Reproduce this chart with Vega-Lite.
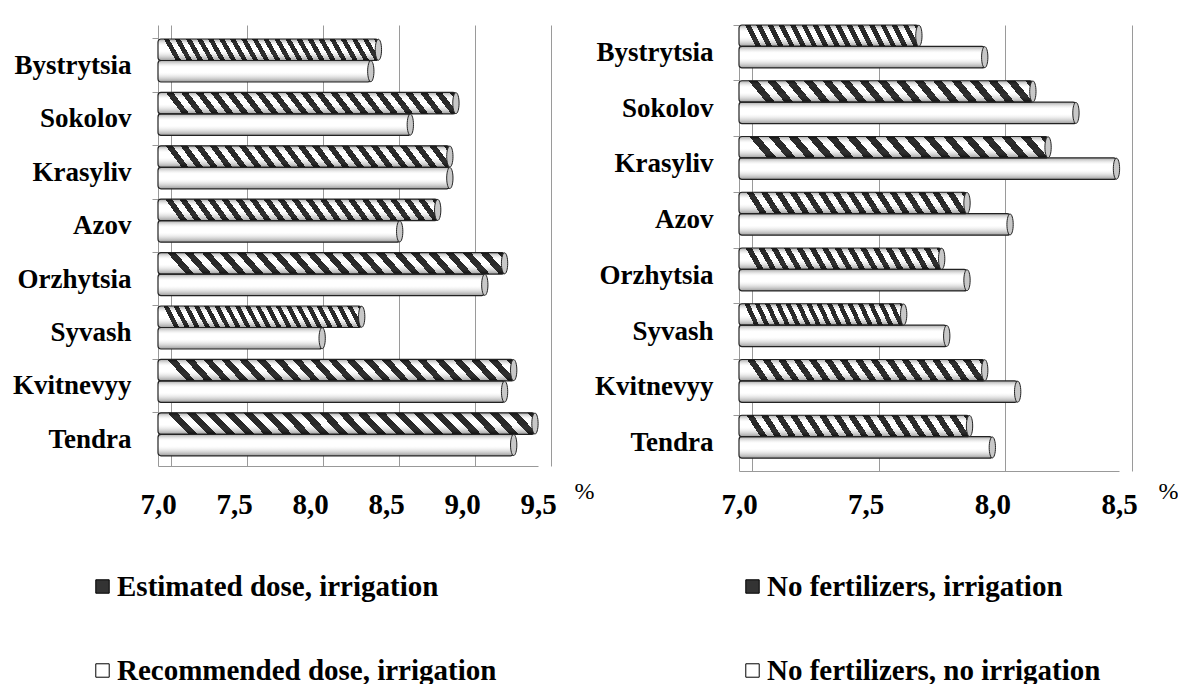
{
  "$schema": "https://vega.github.io/schema/vega-lite/v6.json",
  "padding": {"left": 12, "top": 23, "right": 0, "bottom": 0},
  "autosize": {"type": "pad"},
  "spacing": 0,
  "config": {
    "font": "Liberation Serif",
    "view": {"stroke": null},
    "axis": {"labelFont": "Liberation Serif", "titleFont": "Liberation Serif"},
    "legend": {
      "orient": "none",
      "direction": "vertical",
      "title": null,
      "symbolType": "square",
      "symbolSize": 180,
      "symbolStrokeColor": "#000",
      "symbolStrokeWidth": 1,
      "labelFont": "Liberation Serif",
      "labelFontSize": 29,
      "labelFontWeight": "bold",
      "labelColor": "#000",
      "labelLimit": 600,
      "labelOffset": 0,
      "rowPadding": 54,
      "padding": 0
    }
  },
  "datasets": {
    "left": [
      {"variety": "Bystrytsia", "treatment": "Estimated dose, irrigation", "value": 8.45},
      {"variety": "Bystrytsia", "treatment": "Recommended dose, irrigation", "value": 8.40},
      {"variety": "Sokolov", "treatment": "Estimated dose, irrigation", "value": 8.96},
      {"variety": "Sokolov", "treatment": "Recommended dose, irrigation", "value": 8.66},
      {"variety": "Krasyliv", "treatment": "Estimated dose, irrigation", "value": 8.92},
      {"variety": "Krasyliv", "treatment": "Recommended dose, irrigation", "value": 8.92},
      {"variety": "Azov", "treatment": "Estimated dose, irrigation", "value": 8.84},
      {"variety": "Azov", "treatment": "Recommended dose, irrigation", "value": 8.59},
      {"variety": "Orzhytsia", "treatment": "Estimated dose, irrigation", "value": 9.28},
      {"variety": "Orzhytsia", "treatment": "Recommended dose, irrigation", "value": 9.15},
      {"variety": "Syvash", "treatment": "Estimated dose, irrigation", "value": 8.34},
      {"variety": "Syvash", "treatment": "Recommended dose, irrigation", "value": 8.08},
      {"variety": "Kvitnevyy", "treatment": "Estimated dose, irrigation", "value": 9.34},
      {"variety": "Kvitnevyy", "treatment": "Recommended dose, irrigation", "value": 9.28},
      {"variety": "Tendra", "treatment": "Estimated dose, irrigation", "value": 9.48},
      {"variety": "Tendra", "treatment": "Recommended dose, irrigation", "value": 9.34}
    ],
    "right": [
      {"variety": "Bystrytsia", "treatment": "No fertilizers, irrigation", "value": 7.71},
      {"variety": "Bystrytsia", "treatment": "No fertilizers, no irrigation", "value": 7.97},
      {"variety": "Sokolov", "treatment": "No fertilizers, irrigation", "value": 8.16},
      {"variety": "Sokolov", "treatment": "No fertilizers, no irrigation", "value": 8.33},
      {"variety": "Krasyliv", "treatment": "No fertilizers, irrigation", "value": 8.22},
      {"variety": "Krasyliv", "treatment": "No fertilizers, no irrigation", "value": 8.49},
      {"variety": "Azov", "treatment": "No fertilizers, irrigation", "value": 7.90},
      {"variety": "Azov", "treatment": "No fertilizers, no irrigation", "value": 8.07},
      {"variety": "Orzhytsia", "treatment": "No fertilizers, irrigation", "value": 7.80},
      {"variety": "Orzhytsia", "treatment": "No fertilizers, no irrigation", "value": 7.90},
      {"variety": "Syvash", "treatment": "No fertilizers, irrigation", "value": 7.65},
      {"variety": "Syvash", "treatment": "No fertilizers, no irrigation", "value": 7.82},
      {"variety": "Kvitnevyy", "treatment": "No fertilizers, irrigation", "value": 7.97},
      {"variety": "Kvitnevyy", "treatment": "No fertilizers, no irrigation", "value": 8.10},
      {"variety": "Tendra", "treatment": "No fertilizers, irrigation", "value": 7.91},
      {"variety": "Tendra", "treatment": "No fertilizers, no irrigation", "value": 8.00}
    ]
  },
  "resolve": {
    "scale": {"x": "independent", "y": "independent", "yOffset": "independent", "fill": "independent"},
    "legend": {"fill": "independent"}
  },
  "hconcat": [
    {
      "width": 380,
      "height": 441,
      "data": {"name": "left"},
      "encoding": {
        "y": {
          "field": "variety", "type": "nominal",
          "sort": ["Bystrytsia", "Sokolov", "Krasyliv", "Azov", "Orzhytsia", "Syvash", "Kvitnevyy", "Tendra"],
          "scale": {"paddingInner": 0.195, "paddingOuter": 0.2267, "align": 0.578},
          "axis": {
            "title": null, "bandPosition": 0, "labelOffset": 5.5, "tickSize": 6, "labelPadding": 21,
            "domainColor": "#999", "tickColor": "#999", "labelFontSize": 27, "labelFontWeight": "bold",
            "labelColor": "#000", "grid": false
          }
        },
        "yOffset": {
          "field": "treatment", "type": "nominal",
          "sort": ["Estimated dose, irrigation", "Recommended dose, irrigation"],
          "scale": {"paddingInner": 0, "paddingOuter": 0}
        },
        "x": {
          "field": "value", "type": "quantitative",
          "scale": {"domain": [7, 9.5], "zero": false, "nice": false},
          "axis": {
            "values": [7, 7.5, 8, 8.5, 9, 9.5],
            "labelExpr": "replace(format(datum.value, '.1f'), '.', ',')",
            "grid": true, "gridColor": "#9a9a9a", "gridWidth": 1,
            "tickOffset": 13, "labelOffset": -13, "ticks": false, "tickSize": 0, "labelPadding": 24,
            "domainColor": "#999", "labelFontSize": 29, "labelFontWeight": "bold", "labelColor": "#000",
            "labelFlush": false, "labelOverlap": false,
            "title": "%", "titleX": 426, "titleY": 25, "titleFontSize": 24, "titleFontWeight": "normal",
            "titleAlign": "center", "titleBaseline": "middle", "titleColor": "#000"
          }
        }
      },
      "layer": [
        {
          "mark": {"type": "bar", "cornerRadius": 3},
          "encoding": {
            "x2": {"datum": 7},
            "fill": {
              "field": "treatment", "type": "nominal",
              "scale": {"domain": ["Estimated dose, irrigation", "Recommended dose, irrigation"], "range": ["#333333", "#ffffff"]},
              "legend": {"legendX": -70, "legendY": 547}
            }
          }
        },
        {
          "transform": [{"filter": "datum.treatment === 'Estimated dose, irrigation'"}],
          "mark": {
            "type": "bar", "cornerRadius": 3,
            "fill": {"gradient": "linear", "x1": 0, "y1": 0, "x2": 1, "y2": -0.055, "stops": [
              {"offset": 0, "color": "#fff"}, {"offset": 0.026, "color": "#fff"}, {"offset": 0.026, "color": "#111"}, {"offset": 0.05, "color": "#111"},
              {"offset": 0.05, "color": "#fff"}, {"offset": 0.076, "color": "#fff"}, {"offset": 0.076, "color": "#111"}, {"offset": 0.1, "color": "#111"},
              {"offset": 0.1, "color": "#fff"}, {"offset": 0.126, "color": "#fff"}, {"offset": 0.126, "color": "#111"}, {"offset": 0.15, "color": "#111"},
              {"offset": 0.15, "color": "#fff"}, {"offset": 0.176, "color": "#fff"}, {"offset": 0.176, "color": "#111"}, {"offset": 0.2, "color": "#111"},
              {"offset": 0.2, "color": "#fff"}, {"offset": 0.226, "color": "#fff"}, {"offset": 0.226, "color": "#111"}, {"offset": 0.25, "color": "#111"},
              {"offset": 0.25, "color": "#fff"}, {"offset": 0.276, "color": "#fff"}, {"offset": 0.276, "color": "#111"}, {"offset": 0.3, "color": "#111"},
              {"offset": 0.3, "color": "#fff"}, {"offset": 0.326, "color": "#fff"}, {"offset": 0.326, "color": "#111"}, {"offset": 0.35, "color": "#111"},
              {"offset": 0.35, "color": "#fff"}, {"offset": 0.376, "color": "#fff"}, {"offset": 0.376, "color": "#111"}, {"offset": 0.4, "color": "#111"},
              {"offset": 0.4, "color": "#fff"}, {"offset": 0.426, "color": "#fff"}, {"offset": 0.426, "color": "#111"}, {"offset": 0.45, "color": "#111"},
              {"offset": 0.45, "color": "#fff"}, {"offset": 0.476, "color": "#fff"}, {"offset": 0.476, "color": "#111"}, {"offset": 0.5, "color": "#111"},
              {"offset": 0.5, "color": "#fff"}, {"offset": 0.526, "color": "#fff"}, {"offset": 0.526, "color": "#111"}, {"offset": 0.55, "color": "#111"},
              {"offset": 0.55, "color": "#fff"}, {"offset": 0.576, "color": "#fff"}, {"offset": 0.576, "color": "#111"}, {"offset": 0.6, "color": "#111"},
              {"offset": 0.6, "color": "#fff"}, {"offset": 0.626, "color": "#fff"}, {"offset": 0.626, "color": "#111"}, {"offset": 0.65, "color": "#111"},
              {"offset": 0.65, "color": "#fff"}, {"offset": 0.676, "color": "#fff"}, {"offset": 0.676, "color": "#111"}, {"offset": 0.7, "color": "#111"},
              {"offset": 0.7, "color": "#fff"}, {"offset": 0.726, "color": "#fff"}, {"offset": 0.726, "color": "#111"}, {"offset": 0.75, "color": "#111"},
              {"offset": 0.75, "color": "#fff"}, {"offset": 0.776, "color": "#fff"}, {"offset": 0.776, "color": "#111"}, {"offset": 0.8, "color": "#111"},
              {"offset": 0.8, "color": "#fff"}, {"offset": 0.826, "color": "#fff"}, {"offset": 0.826, "color": "#111"}, {"offset": 0.85, "color": "#111"},
              {"offset": 0.85, "color": "#fff"}, {"offset": 0.876, "color": "#fff"}, {"offset": 0.876, "color": "#111"}, {"offset": 0.9, "color": "#111"},
              {"offset": 0.9, "color": "#fff"}, {"offset": 0.926, "color": "#fff"}, {"offset": 0.926, "color": "#111"}, {"offset": 0.95, "color": "#111"},
              {"offset": 0.95, "color": "#fff"}, {"offset": 0.976, "color": "#fff"}, {"offset": 0.976, "color": "#111"}, {"offset": 1, "color": "#111"}
            ]}
          },
          "encoding": {"x2": {"datum": 7}}
        },
        {
          "mark": {
            "type": "bar", "cornerRadius": 3, "stroke": "#222", "strokeWidth": 1.2,
            "fill": {"gradient": "linear", "x1": 0, "y1": 0, "x2": 0, "y2": 1, "stops": [
              {"offset": 0, "color": "rgba(0,0,0,0.35)"},
              {"offset": 0.3, "color": "rgba(255,255,255,0.1)"},
              {"offset": 0.55, "color": "rgba(255,255,255,0.1)"},
              {"offset": 1, "color": "rgba(0,0,0,0.4)"}
            ]}
          },
          "encoding": {"x2": {"datum": 7}}
        },
        {
          "mark": {
            "type": "point", "shape": "M0,-1A0.3,1 0 1,1 0,1A0.3,1 0 1,1 0,-1Z",
            "size": 441, "filled": true, "fill": "#c8c8c8", "stroke": "#222", "strokeWidth": 1, "opacity": 1
          },
          "encoding": {}
        }
      ]
    },
    {
      "width": 380,
      "height": 446,
      "data": {"name": "right"},
      "encoding": {
        "y": {
          "field": "variety", "type": "nominal",
          "sort": ["Bystrytsia", "Sokolov", "Krasyliv", "Azov", "Orzhytsia", "Syvash", "Kvitnevyy", "Tendra"],
          "scale": {"paddingInner": 0.23, "paddingOuter": 0.115, "align": 0},
          "axis": {
            "title": null, "bandPosition": 0, "labelOffset": 6.4, "tickSize": 6, "labelPadding": 20,
            "domainColor": "#999", "tickColor": "#999", "labelFontSize": 27, "labelFontWeight": "bold",
            "labelColor": "#000", "grid": false
          }
        },
        "yOffset": {
          "field": "treatment", "type": "nominal",
          "sort": ["No fertilizers, irrigation", "No fertilizers, no irrigation"],
          "scale": {"paddingInner": 0, "paddingOuter": 0}
        },
        "x": {
          "field": "value", "type": "quantitative",
          "scale": {"domain": [7, 8.5], "zero": false, "nice": false},
          "axis": {
            "values": [7, 7.5, 8, 8.5],
            "labelExpr": "replace(format(datum.value, '.1f'), '.', ',')",
            "grid": true, "gridColor": "#9a9a9a", "gridWidth": 1,
            "tickOffset": 13, "labelOffset": -13, "ticks": false, "tickSize": 0, "labelPadding": 19,
            "domainColor": "#999", "labelFontSize": 29, "labelFontWeight": "bold", "labelColor": "#000",
            "labelFlush": false, "labelOverlap": false,
            "title": "%", "titleX": 429, "titleY": 20, "titleFontSize": 24, "titleFontWeight": "normal",
            "titleAlign": "center", "titleBaseline": "middle", "titleColor": "#000"
          }
        }
      },
      "layer": [
        {
          "mark": {"type": "bar", "cornerRadius": 3},
          "encoding": {
            "x2": {"datum": 7},
            "fill": {
              "field": "treatment", "type": "nominal",
              "scale": {"domain": ["No fertilizers, irrigation", "No fertilizers, no irrigation"], "range": ["#333333", "#ffffff"]},
              "legend": {"legendX": -1, "legendY": 547}
            }
          }
        },
        {
          "transform": [{"filter": "datum.treatment === 'No fertilizers, irrigation'"}],
          "mark": {
            "type": "bar", "cornerRadius": 3,
            "fill": {"gradient": "linear", "x1": 0, "y1": 0, "x2": 1, "y2": -0.06, "stops": [
              {"offset": 0, "color": "#fff"}, {"offset": 0.0325, "color": "#fff"}, {"offset": 0.0325, "color": "#111"}, {"offset": 0.0625, "color": "#111"},
              {"offset": 0.0625, "color": "#fff"}, {"offset": 0.095, "color": "#fff"}, {"offset": 0.095, "color": "#111"}, {"offset": 0.125, "color": "#111"},
              {"offset": 0.125, "color": "#fff"}, {"offset": 0.1575, "color": "#fff"}, {"offset": 0.1575, "color": "#111"}, {"offset": 0.1875, "color": "#111"},
              {"offset": 0.1875, "color": "#fff"}, {"offset": 0.22, "color": "#fff"}, {"offset": 0.22, "color": "#111"}, {"offset": 0.25, "color": "#111"},
              {"offset": 0.25, "color": "#fff"}, {"offset": 0.2825, "color": "#fff"}, {"offset": 0.2825, "color": "#111"}, {"offset": 0.3125, "color": "#111"},
              {"offset": 0.3125, "color": "#fff"}, {"offset": 0.345, "color": "#fff"}, {"offset": 0.345, "color": "#111"}, {"offset": 0.375, "color": "#111"},
              {"offset": 0.375, "color": "#fff"}, {"offset": 0.4075, "color": "#fff"}, {"offset": 0.4075, "color": "#111"}, {"offset": 0.4375, "color": "#111"},
              {"offset": 0.4375, "color": "#fff"}, {"offset": 0.47, "color": "#fff"}, {"offset": 0.47, "color": "#111"}, {"offset": 0.5, "color": "#111"},
              {"offset": 0.5, "color": "#fff"}, {"offset": 0.5325, "color": "#fff"}, {"offset": 0.5325, "color": "#111"}, {"offset": 0.5625, "color": "#111"},
              {"offset": 0.5625, "color": "#fff"}, {"offset": 0.595, "color": "#fff"}, {"offset": 0.595, "color": "#111"}, {"offset": 0.625, "color": "#111"},
              {"offset": 0.625, "color": "#fff"}, {"offset": 0.6575, "color": "#fff"}, {"offset": 0.6575, "color": "#111"}, {"offset": 0.6875, "color": "#111"},
              {"offset": 0.6875, "color": "#fff"}, {"offset": 0.72, "color": "#fff"}, {"offset": 0.72, "color": "#111"}, {"offset": 0.75, "color": "#111"},
              {"offset": 0.75, "color": "#fff"}, {"offset": 0.7825, "color": "#fff"}, {"offset": 0.7825, "color": "#111"}, {"offset": 0.8125, "color": "#111"},
              {"offset": 0.8125, "color": "#fff"}, {"offset": 0.845, "color": "#fff"}, {"offset": 0.845, "color": "#111"}, {"offset": 0.875, "color": "#111"},
              {"offset": 0.875, "color": "#fff"}, {"offset": 0.9075, "color": "#fff"}, {"offset": 0.9075, "color": "#111"}, {"offset": 0.9375, "color": "#111"},
              {"offset": 0.9375, "color": "#fff"}, {"offset": 0.97, "color": "#fff"}, {"offset": 0.97, "color": "#111"}, {"offset": 1, "color": "#111"}
            ]}
          },
          "encoding": {"x2": {"datum": 7}}
        },
        {
          "mark": {
            "type": "bar", "cornerRadius": 3, "stroke": "#222", "strokeWidth": 1.2,
            "fill": {"gradient": "linear", "x1": 0, "y1": 0, "x2": 0, "y2": 1, "stops": [
              {"offset": 0, "color": "rgba(0,0,0,0.35)"},
              {"offset": 0.3, "color": "rgba(255,255,255,0.1)"},
              {"offset": 0.55, "color": "rgba(255,255,255,0.1)"},
              {"offset": 1, "color": "rgba(0,0,0,0.4)"}
            ]}
          },
          "encoding": {"x2": {"datum": 7}}
        },
        {
          "mark": {
            "type": "point", "shape": "M0,-1A0.3,1 0 1,1 0,1A0.3,1 0 1,1 0,-1Z",
            "size": 441, "filled": true, "fill": "#c8c8c8", "stroke": "#222", "strokeWidth": 1, "opacity": 1
          },
          "encoding": {}
        }
      ]
    }
  ]
}
